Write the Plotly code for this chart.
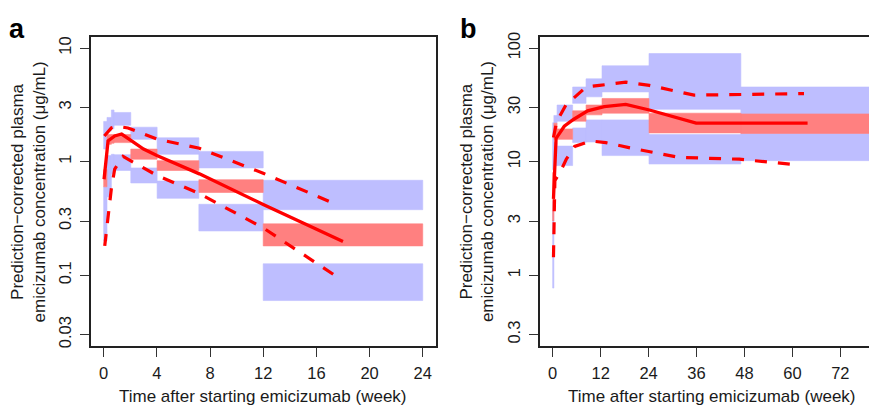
import plotly.graph_objects as go

W, H = 877, 414
OFF = 8  # page body margin offset compensation

# ---------------- Panel a data (weeks, µg/mL) ----------------
a_bin_start = [0.0, 0.25, 0.58, 0.78, 2.04, 4.02, 7.16, 12.0]
a_bin_end = [0.25, 0.58, 0.78, 2.04, 4.02, 7.16, 12.0, 24.0]
a_p95_lo = [1.29, 1.86, 1.95, 2.09, 1.57, 1.16, 0.88, 0.377]
a_p95_hi = [2.26, 2.45, 2.85, 2.71, 2.01, 1.62, 1.23, 0.685]
a_med_lo = [0.60, 1.42, 1.45, 1.47, 1.05, 0.836, 0.535, 0.181]
a_med_hi = [0.85, 1.73, 1.73, 1.73, 1.29, 1.02, 0.693, 0.283]
a_p5_lo = [0.20, 0.49, 0.78, 0.836, 0.649, 0.475, 0.245, 0.0598]
a_p5_hi = [0.60, 1.13, 1.16, 1.15, 0.88, 0.675, 0.421, 0.126]

a_med_t = [0.03, 0.33, 0.83, 1.35, 2.1, 3.0, 4.0, 7.2, 12.0, 18.0]
a_med_v = [0.70, 1.52, 1.68, 1.75, 1.52, 1.29, 1.13, 0.78, 0.42, 0.198]
a_hi_t = [0.05, 0.58, 0.96, 1.83, 4.0, 7.2, 12.0, 17.3]
a_hi_v = [1.68, 1.98, 2.05, 1.98, 1.58, 1.31, 0.79, 0.43]
a_lo_t = [0.08, 0.58, 0.83, 1.46, 2.7, 4.0, 7.16, 12.0, 17.55]
a_lo_v = [0.181, 0.58, 0.86, 1.11, 0.92, 0.757, 0.525, 0.261, 0.0967]

# ---------------- Panel b data ----------------
b_bin_start = [0.0, 0.3, 1.1, 5.0, 8.35, 12.35, 24.1, 47.1]
b_bin_end = [0.3, 1.1, 5.0, 8.35, 12.35, 24.1, 47.1, 79.6]
b_p95_lo = [8.5, 21.8, 22.7, 32.6, 37.2, 41.1, 28.9, 26.3]
b_p95_hi = [22.0, 25.5, 31.5, 45.4, 53.6, 69.8, 89.5, 45.4]
b_med_lo = [3.0, 15.7, 15.7, 22.7, 25.8, 26.7, 17.9, 17.7]
b_med_hi = [8.0, 21.8, 19.4, 28.0, 31.5, 36.0, 26.7, 26.3]
b_p5_lo = [0.77, 9.2, 9.23, 14.7, 14.9, 11.3, 9.53, 10.2]
b_p5_hi = [4.45, 14.7, 13.7, 19.8, 23.3, 23.3, 17.3, 17.7]

b_med_t = [0.2, 0.85, 2.9, 5.2, 8.75, 12.9, 18.3, 24.2, 35.9, 63.8]
b_med_v = [4.7, 16.0, 20.5, 23.5, 28.0, 30.5, 31.9, 28.5, 21.8, 21.8]
b_hi_t = [0.2, 1.0, 3.3, 8.35, 11.7, 18.3, 24.2, 35.4, 62.9]
b_hi_v = [16.3, 22.5, 31.5, 45.4, 46.9, 50.1, 46.9, 38.5, 39.7]
b_lo_t = [0.2, 0.55, 2.1, 3.4, 5.5, 9.6, 13.3, 20.8, 31.7, 46.7, 60.8]
b_lo_v = [1.44, 6.8, 8.4, 10.5, 13.6, 15.2, 14.7, 12.9, 10.9, 10.5, 9.4]

a_xticks = [0, 4, 8, 12, 16, 20, 24]
b_xticks = [0, 12, 24, 36, 48, 60, 72]
a_yticks = [0.03, 0.1, 0.3, 1, 3, 10]
a_yticktext = ["0.03", "0.1", "0.3", "1", "3", "10"]
b_yticks = [0.3, 1, 3, 10, 30, 100]
b_yticktext = ["0.3", "1", "3", "10", "30", "100"]

panel_labels = ["a", "b"]
xtitle = "Time after starting emicizumab (week)"
ytitle1 = "Prediction\u2212corrected plasma"
ytitle2 = "emicizumab concentration (\u03bcg/mL)"

BLUE = "rgb(190,190,255)"
PINK = "rgb(255,128,128)"
RED = "rgb(255,0,0)"
FONT = "Arial, Liberation Sans, sans-serif"
TXT = "#1a1a1a"


def rects(x0s, x1s, lo, hi):
    xs, ys = [], []
    for a, b, l, h in zip(x0s, x1s, lo, hi):
        xs += [a, b, b, a, a, None]
        ys += [l, l, h, h, l, None]
    return xs, ys


fig = go.Figure()


def add_panel(xa, ya, bs, be, p95lo, p95hi, medlo, medhi, p5lo, p5hi,
              mt, mv, ht, hv, lt, lv):
    for lo, hi, col in [(p95lo, p95hi, BLUE), (p5lo, p5hi, BLUE), (medlo, medhi, PINK)]:
        xs, ys = rects(bs, be, lo, hi)
        fig.add_trace(go.Scatter(x=xs, y=ys, mode="lines", fill="toself",
                                 fillcolor=col, line=dict(width=0.6, color=col),
                                 xaxis=xa, yaxis=ya, hoverinfo="skip", showlegend=False))
    for t, v in [(ht, hv), (lt, lv)]:
        fig.add_trace(go.Scatter(x=t, y=v, mode="lines",
                                 line=dict(color=RED, width=3.2, dash="12px,11px"),
                                 xaxis=xa, yaxis=ya, showlegend=False))
    fig.add_trace(go.Scatter(x=mt, y=mv, mode="lines",
                             line=dict(color=RED, width=3.3),
                             xaxis=xa, yaxis=ya, showlegend=False))


add_panel("x", "y", a_bin_start, a_bin_end, a_p95_lo, a_p95_hi, a_med_lo, a_med_hi,
          a_p5_lo, a_p5_hi, a_med_t, a_med_v, a_hi_t, a_hi_v, a_lo_t, a_lo_v)
add_panel("x2", "y2", b_bin_start, b_bin_end, b_p95_lo, b_p95_hi, b_med_lo, b_med_hi,
          b_p5_lo, b_p5_hi, b_med_t, b_med_v, b_hi_t, b_hi_v, b_lo_t, b_lo_v)

axis_common = dict(showgrid=False, zeroline=False, showline=True, linecolor="#222",
                   linewidth=1.5, ticks="outside", ticklen=9, tickwidth=1.3,
                   tickcolor="#333", mirror=True,
                   tickfont=dict(family=FONT, size=16.5, color=TXT))


def px(v):
    return (v - OFF) / W


def py(v):
    return 1 - (v - OFF) / H


fig.update_layout(
    width=W, height=H, margin=dict(l=0, r=0, t=0, b=0),
    paper_bgcolor="white", plot_bgcolor="white", showlegend=False,
    xaxis=dict(domain=[px(91), px(436)], range=[-0.96, 24.96], tickvals=a_xticks,
               anchor="y", ticklabelstandoff=2, **axis_common),
    yaxis=dict(domain=[py(347), py(32)], type="log", range=[-1.626, 1.101],
               tickvals=a_yticks, ticktext=a_yticktext, tickangle=-90,
               anchor="x", ticklabelstandoff=3, **axis_common),
    xaxis2=dict(domain=[px(540.7), px(540.7 + 4 * 85.85)], range=[-3.15, 82.7],
                tickvals=b_xticks, anchor="y2", ticklabelstandoff=2, **axis_common),
    yaxis2=dict(domain=[py(347), py(32)], type="log", range=[-0.626, 2.101],
                tickvals=b_yticks, ticktext=b_yticktext, tickangle=-90,
                anchor="x2", ticklabelstandoff=3, **axis_common),
)

ann = []
for cx, lx in [(263.5, 17.5), (712.6, 466.7)]:
    ann.append(dict(text=xtitle, x=px(cx), y=py(398), xref="paper", yref="paper",
                    xanchor="center", yanchor="middle", showarrow=False,
                    font=dict(family=FONT, size=17, color=TXT)))
    ann.append(dict(text=ytitle1, x=px(lx), y=py(189.5), xref="paper", yref="paper",
                    xanchor="center", yanchor="middle", showarrow=False, textangle=-90,
                    font=dict(family=FONT, size=17, color=TXT)))
    ann.append(dict(text=ytitle2, x=px(lx + 21.5), y=py(189.5), xref="paper", yref="paper",
                    xanchor="center", yanchor="middle", showarrow=False, textangle=-90,
                    font=dict(family=FONT, size=17, color=TXT)))
for lab, cx in zip(panel_labels, [16.7, 469]):
    ann.append(dict(text="<b>%s</b>" % lab, x=px(cx), y=1.0, xref="paper", yref="paper",
                    xanchor="center", yanchor="top", showarrow=False, borderpad=0,
                    font=dict(family=FONT, size=27, color="#000")))
fig.update_layout(annotations=ann)

fig.write_html("out.html")
